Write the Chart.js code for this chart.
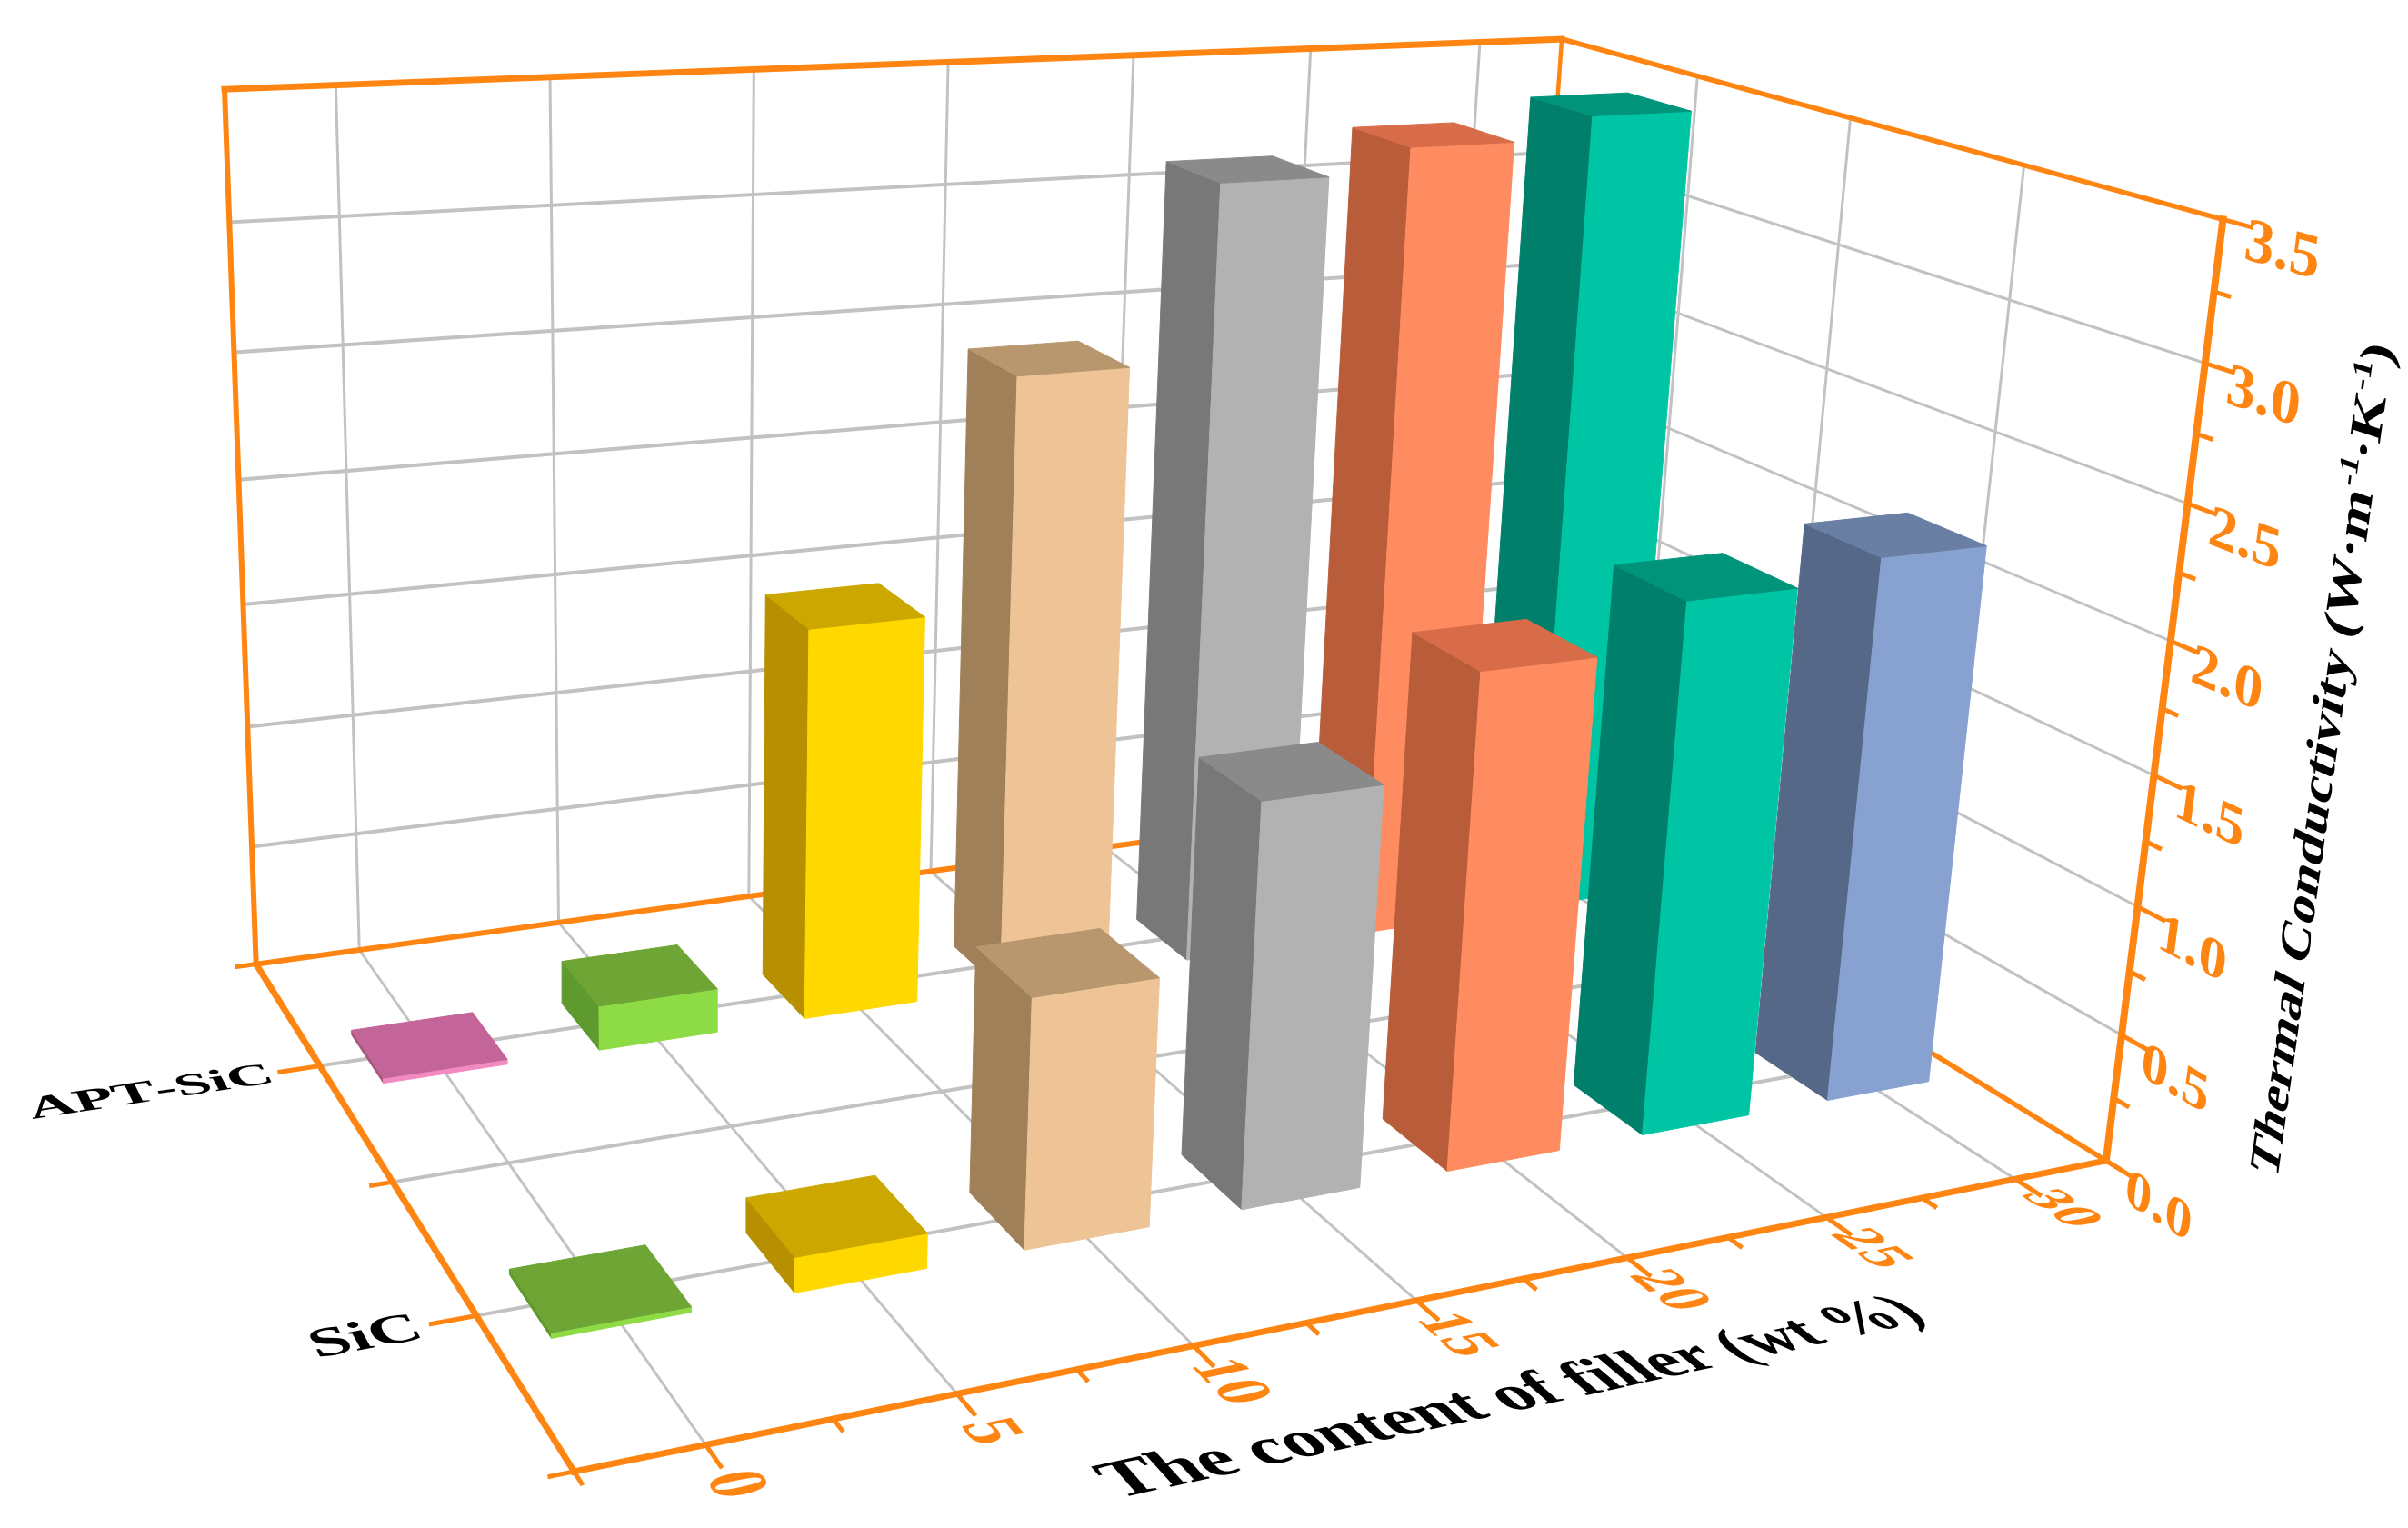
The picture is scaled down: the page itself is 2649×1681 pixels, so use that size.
<!DOCTYPE html>
<html>
<head>
<meta charset="utf-8">
<title>Thermal conductivity vs filler content</title>
<script src="https://cdn.jsdelivr.net/npm/chart.js@4/dist/chart.umd.min.js"></script>
<style>
    html, body { margin: 0; padding: 0; background: #fff; }
    canvas { display: block; }
</style>
</head>
<body>
<canvas id="chart3d" width="2649" height="1681"></canvas>
<script>
// Chart values
const contentLevels = [0, 5, 10, 15, 20, 25, 30];
const seriesNames = ['SiC', 'APT-SiC'];
const seriesDepth = [1, 2];
const sicValues = [0.02, 0.13, 0.93, 1.52, 1.89, 2.06, 2.14];
const aptValues = [0.02, 0.18, 1.59, 2.51, 3.21, 3.31, 3.4];
const yTickLabels = ['0.0', '0.5', '1.0', '1.5', '2.0', '2.5', '3.0', '3.5'];

// Box colours per content level: front, left, top
const sicFront = ['#8edc45', '#ffd800', '#eec496', '#b2b2b2', '#ff8c60', '#00c5a5', '#87a2d0'];
const sicLeft = ['#5f9a2e', '#b69000', '#9f8059', '#787878', '#b95c3a', '#00806a', '#566888'];
const sicTop = ['#6ea534', '#cca700', '#b8966e', '#8a8a8a', '#d96c48', '#00947b', '#6a7fa4'];
const aptFront = ['#f28ac0', '#8edc45', '#ffd800', '#eec496', '#b2b2b2', '#ff8c60', '#00c5a5'];
const aptLeft = ['#a8557f', '#5f9a2e', '#b69000', '#9f8059', '#787878', '#b95c3a', '#00806a'];
const aptTop = ['#c4659a', '#6ea534', '#cca700', '#b8966e', '#8a8a8a', '#d96c48', '#00947b'];

const ORANGE = '#ff8512';
const GRID = '#c2c2c2';
const X_MIN = -2.5, X_MAX = 32.5, Y_MAX = 3.5, Z_MIN = 0.5, Z_MAX = 2.5;
const BAR_X = 1.42, BAR_Z = 0.112;

// Where known axis points land on the page: x, y, z, pageX, pageY.
// The camera below is fitted to these, every mark then goes through it.
const cameraRefs = [
    [X_MIN, 0, Z_MIN, 631, 1620],
    [X_MAX, 0, Z_MIN, 2321, 1278],
    [X_MIN, 0, Z_MAX, 284, 1061],
    [X_MAX, 0, Z_MAX, 1655, 871],
    [X_MIN, Y_MAX, Z_MAX, 245, 98],
    [X_MAX, Y_MAX, Z_MAX, 1723, 43],
    [X_MAX, Y_MAX, Z_MIN, 2441, 242],
    [15, 0, Z_MIN, 1558, 1429],
    [X_MIN, 0, 1.5, 432, 1300],
    [X_MAX, 1.5, Z_MIN, 2370, 852]
];

function normWorld(x, y, z) {
    return [(x - X_MIN) / (X_MAX - X_MIN), y / Y_MAX, (z - Z_MIN) / (Z_MAX - Z_MIN)];
}

// Least squares fit of a 3x4 projection matrix (last entry fixed to 1)
function fitCamera(refs) {
    const n = 11;
    const ata = Array.from({ length: n }, () => new Array(n + 1).fill(0));
    const addRow = (row, rhs) => {
        for (let i = 0; i < n; i++) {
            for (let j = 0; j < n; j++) ata[i][j] += row[i] * row[j];
            ata[i][n] += row[i] * rhs;
        }
    };
    refs.forEach(r => {
        const [X, Y, Z] = normWorld(r[0], r[1], r[2]);
        const u = r[3] / 1000, v = r[4] / 1000;
        addRow([X, Y, Z, 1, 0, 0, 0, 0, -u * X, -u * Y, -u * Z], u);
        addRow([0, 0, 0, 0, X, Y, Z, 1, -v * X, -v * Y, -v * Z], v);
    });
    for (let c = 0; c < n; c++) {
        let best = c;
        for (let r = c + 1; r < n; r++) if (Math.abs(ata[r][c]) > Math.abs(ata[best][c])) best = r;
        [ata[c], ata[best]] = [ata[best], ata[c]];
        for (let r = 0; r < n; r++) {
            if (r === c) continue;
            const f = ata[r][c] / ata[c][c];
            for (let k = c; k <= n; k++) ata[r][k] -= f * ata[c][k];
        }
    }
    return ata.map((row, i) => row[n] / row[i]);
}

const cam = fitCamera(cameraRefs);

function project(x, y, z) {
    const [X, Y, Z] = normWorld(x, y, z);
    const w = cam[8] * X + cam[9] * Y + cam[10] * Z + 1;
    return {
        x: 1000 * (cam[0] * X + cam[1] * Y + cam[2] * Z + cam[3]) / w,
        y: 1000 * (cam[4] * X + cam[5] * Y + cam[6] * Z + cam[7]) / w
    };
}

const datasets = [];

// Line pieces, one dataset per group, NaN points break the line
function addLines(segments, color, width) {
    const data = [];
    segments.forEach(s => {
        data.push(project(...s[0]), project(...s[1]), { x: NaN, y: NaN });
    });
    datasets.push({
        data: data, showLine: true, fill: false, borderColor: color, borderWidth: width,
        pointRadius: 0, spanGaps: false, tension: 0, borderCapStyle: 'square'
    });
}

function addFace(corners, color) {
    const data = corners.map(c => project(...c));
    data.push(data[0]);
    datasets.push({
        data: data, showLine: true, fill: 'shape', backgroundColor: color, borderColor: color,
        borderWidth: 1, pointRadius: 0, tension: 0
    });
}

function addBar(x, z, value, front, left, top) {
    const x0 = x - BAR_X, x1 = x + BAR_X, z0 = z - BAR_Z, z1 = z + BAR_Z;
    addFace([[x0, 0, z0], [x0, 0, z1], [x0, value, z1], [x0, value, z0]], left);
    addFace([[x0, 0, z0], [x1, 0, z0], [x1, value, z0], [x0, value, z0]], front);
    addFace([[x0, value, z0], [x1, value, z0], [x1, value, z1], [x0, value, z1]], top);
}

// Grid on back wall, right wall and floor
const gridThin = [], gridThick = [];
contentLevels.forEach(x => {
    gridThin.push([[x, 0, Z_MAX], [x, Y_MAX, Z_MAX]]);
    gridThin.push([[x, 0, Z_MIN], [x, 0, Z_MAX]]);
});
[1, 1.5, 2].forEach(z => {
    gridThin.push([[X_MAX, 0, z], [X_MAX, Y_MAX, z]]);
    gridThick.push([[X_MIN, 0, z], [X_MAX, 0, z]]);
});
yTickLabels.slice(1, -1).forEach(t => {
    gridThick.push([[X_MIN, +t, Z_MAX], [X_MAX, +t, Z_MAX]]);
    gridThin.push([[X_MAX, +t, Z_MIN], [X_MAX, +t, Z_MAX]]);
});
addLines(gridThin, GRID, 3);
addLines(gridThick, GRID, 4);

// Frame
addLines([[[X_MAX, 0, Z_MAX], [X_MAX, Y_MAX, Z_MAX]]], ORANGE, 4.5);
addLines([[[X_MIN, 0, Z_MAX], [X_MIN, Y_MAX, Z_MAX]], [[X_MIN, 0, Z_MAX], [X_MAX, 0, Z_MAX]]], ORANGE, 6);
addLines([[[X_MIN, Y_MAX, Z_MAX], [X_MAX, Y_MAX, Z_MAX]]], ORANGE, 7);
addLines([[[X_MAX, Y_MAX, Z_MAX], [X_MAX, Y_MAX, Z_MIN]], [[X_MAX, 0, Z_MIN], [X_MAX, 0, Z_MAX]]], ORANGE, 5.5);

// Bars, far row first, and right to left inside a row
for (let i = contentLevels.length - 1; i >= 0; i--) {
    addBar(contentLevels[i], seriesDepth[1], aptValues[i], aptFront[i], aptLeft[i], aptTop[i]);
}
for (let i = contentLevels.length - 1; i >= 0; i--) {
    addBar(contentLevels[i], seriesDepth[0], sicValues[i], sicFront[i], sicLeft[i], sicTop[i]);
}

// Front axes and their ticks sit over the bars
const xTicks = [], yTicks = [], zTicks = [];
for (let x = X_MIN; x <= X_MAX; x += 2.5) {
    const major = contentLevels.includes(x);
    xTicks.push([[x, 0, Z_MIN], [x, 0, Z_MIN - (major ? 0.065 : 0.035)]]);
}
for (let y = 0; y <= Y_MAX; y += 0.25) {
    const major = (y * 2) % 1 === 0;
    yTicks.push([[X_MAX, y, Z_MIN], [X_MAX, y, Z_MIN - (major ? 0.065 : 0.035)]]);
}
for (let z = Z_MIN; z <= Z_MAX; z += 0.5) {
    const major = seriesDepth.includes(z);
    zTicks.push([[X_MIN, 0, z], [X_MIN - (major ? 0.9 : 0.45), 0, z]]);
}
addLines([[[X_MIN, 0, Z_MIN], [X_MAX, 0, Z_MIN]], [[X_MIN, 0, Z_MIN], [X_MIN, 0, Z_MAX]]], ORANGE, 7);
addLines([[[X_MAX, 0, Z_MIN], [X_MAX, Y_MAX, Z_MIN]]], ORANGE, 8);
addLines(xTicks.concat(zTicks), ORANGE, 5);
addLines(yTicks, ORANGE, 5);

// Text lying in an axis plane, each glyph gets its own local affine so it follows the perspective.
// start: world point of the text centre on the baseline, uDir/vDir: world vector of one em along / up
function drawPlaneText(ctx, pieces, start, uDir, vDir, color) {
    ctx.save();
    ctx.fillStyle = color;
    ctx.font = 'bold 100px "Liberation Serif"';
    ctx.textBaseline = 'alphabetic';
    ctx.textAlign = 'left';
    let total = 0;
    pieces.forEach(p => { total += ctx.measureText(p.text).width / 100 * (p.scale || 1); });
    let adv = -total / 2;
    pieces.forEach(p => {
        const scale = p.scale || 1, raise = p.raise || 0;
        for (const ch of p.text) {
            const pos = [0, 1, 2].map(k => start[k] + uDir[k] * adv + vDir[k] * raise);
            const o = project(...pos);
            const d = 0.01;
            const pu = project(...pos.map((c, k) => c + uDir[k] * d));
            const pv = project(...pos.map((c, k) => c + vDir[k] * d));
            const s = scale / d / 100;
            ctx.setTransform((pu.x - o.x) * s, (pu.y - o.y) * s, -(pv.x - o.x) * s, -(pv.y - o.y) * s, o.x, o.y);
            ctx.fillText(ch, 0, 0);
            adv += ctx.measureText(ch).width / 100 * scale;
        }
    });
    ctx.restore();
}

const axisText = {
    id: 'axisText',
    afterDraw(chart) {
        const ctx = chart.ctx;
        // content ticks lie on the floor, digits stand along +x
        contentLevels.forEach(x => {
            drawPlaneText(ctx, [{ text: String(x) }], [x - 0.4, 0, 0.38], [0, 0, -0.14], [1.5, 0, 0], ORANGE);
        });
        // conductivity ticks on the right wall
        yTickLabels.forEach(t => {
            drawPlaneText(ctx, [{ text: t }], [X_MAX, +t - 0.11, 0.36], [0, 0, -0.135], [0, 0.21, 0], ORANGE);
        });
        seriesNames.forEach((name, i) => {
            const x = i === 0 ? -4.7 : -6.3;
            drawPlaneText(ctx, [{ text: name }], [x, 0, seriesDepth[i] - 0.04], [1.36, 0, 0], [0, 0, 0.13], '#000');
        });
        drawPlaneText(ctx, [{ text: 'The content of filler (wt %)' }], [15.2, 0, 0.14], [1.54, 0, 0], [0, 0, 0.14], '#000');
        drawPlaneText(ctx, [
            { text: 'Thermal Conductivity (W\u00b7m' },
            { text: '-1', scale: 0.6, raise: 0.4 },
            { text: '\u00b7K' },
            { text: '-1', scale: 0.6, raise: 0.4 },
            { text: ')' }
        ], [X_MAX, 1.77, 0.1], [0, 0.2, 0], [0, 0, 0.095], '#000');
    }
};

// Chart.js draws the first dataset on top, so hand them over back to front reversed
new Chart(document.getElementById('chart3d').getContext('2d'), {
    type: 'scatter',
    data: { datasets: datasets.slice().reverse() },
    options: {
        responsive: false,
        animation: false,
        layout: { padding: 0 },
        plugins: { legend: { display: false }, tooltip: { enabled: false } },
        scales: {
            x: { type: 'linear', min: 0, max: 2649, display: false },
            y: { type: 'linear', min: 0, max: 1681, reverse: true, display: false }
        }
    },
    plugins: [axisText]
});
</script>
</body>
</html>
